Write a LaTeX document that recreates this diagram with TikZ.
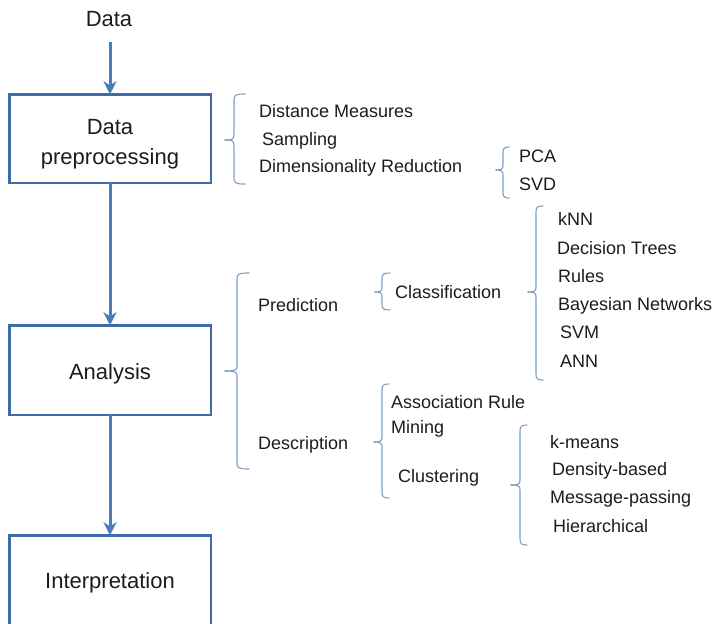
\documentclass[tikz,border=0pt]{standalone}
\usepackage{fontspec}
\setmainfont{Liberation Sans}
\usetikzlibrary{arrows.meta}

\definecolor{boxblue}{HTML}{3F6CA8}
\definecolor{arrowblue}{HTML}{4A7DBB}
\definecolor{braceblue}{HTML}{7E9CC4}
\definecolor{ink}{HTML}{1C1C1C}

\tikzset{
  stagebox/.style={draw=boxblue, line width=2.5pt, fill=none, inner sep=0pt, outer sep=0pt,
    minimum width=201.5pt, rectangle},
  flow/.style={draw=arrowblue, line width=3pt,
    -{Stealth[length=13pt, width=13pt, inset=4pt]}},
  bracket/.style={draw=braceblue, line width=1.1pt, line cap=round, line join=round},
  stagetext/.style={text=ink, font=\fontsize{22}{30}\selectfont, inner sep=0pt, align=center},
  item/.style={text=ink, font=\fontsize{18}{21}\selectfont, inner sep=0pt, anchor=base west},
}

% left curly bracket: #1 = x of spine, #2 = top, #3 = bottom, #4 = y of tip,
% #5 = x of tip, #6 = x where the end hooks stop
\newcommand\curlybrk[6]{%
  \draw[bracket] (#6,#2) .. controls (#1+1.5,#2) and (#1,#2+1) .. (#1,#2+6)
    -- (#1,#4-5) .. controls (#1,#4-1) and (#1-1.5,#4) .. (#5,#4);
  \draw[bracket] (#5,#4) .. controls (#1-1.5,#4) and (#1,#4+1) .. (#1,#4+5)
    -- (#1,#3-6) .. controls (#1,#3-1) and (#1+1.5,#3) .. (#6,#3);
}

\begin{document}
\begin{tikzpicture}[x=1pt, y=-1pt]
\useasboundingbox (0,0) rectangle (713,624);
\clip (0,0) rectangle (713,624);

% stages
\node[text=ink, font=\fontsize{22}{26}\selectfont, inner sep=0pt, anchor=base] (data) at (109,26) {Data};
\node[stagebox, minimum height=88.5pt] (prep) at (110,138.5) {};
\node[stagetext] (preptext) at (110,144) {Data\\preprocessing};
\node[stagebox, minimum height=89.5pt] (ana) at (110,370) {};
\node[stagetext, anchor=base] (anatext) at (110,379) {Analysis};
\node[stagebox, minimum height=90.5pt] (interp) at (110,580.5) {};
\node[stagetext, anchor=base] (interptext) at (110,588) {Interpretation};

\coordinate (datafoot) at (110,42);
\draw[flow] (datafoot) -- (prep.north);
\draw[flow] (prep.south) -- (ana.north);
\draw[flow] (ana.south) -- (interp.north);

% preprocessing techniques
\curlybrk{234}{94}{184}{140}{225}{245}
\node[item] (dist) at (259,117) {Distance Measures};
\node[item] (samp) at (262,145) {Sampling};
\node[item] (dimred) at (259,172) {Dimensionality Reduction};

\curlybrk{503}{147}{198}{170}{496}{509}
\node[item] (pca) at (519,162) {PCA};
\node[item] (svd) at (519,190) {SVD};

% analysis tasks
\curlybrk{237}{273}{469}{371}{225}{249}
\node[item] (pred) at (258,311) {Prediction};
\node[item] (desc) at (258,449) {Description};

\curlybrk{382}{273}{310}{292}{375}{390}
\node[item] (cls) at (395,298) {Classification};

\curlybrk{536}{206}{380}{292}{528}{543}
\node[item] (knn) at (558,225) {kNN};
\node[item] (dtree) at (557,254) {Decision Trees};
\node[item] (rules) at (558,282) {Rules};
\node[item] (bayes) at (558,310) {Bayesian Networks};
\node[item] (svm) at (560,338) {SVM};
\node[item] (ann) at (560,367) {ANN};

\curlybrk{382}{384}{498}{442}{374}{389}
\node[item] (arm) at (391,408) {Association Rule};
\node[item] (mining) at (391,433) {Mining};
\node[item] (clus) at (398,482) {Clustering};

\curlybrk{520}{425}{545}{485}{511}{527}
\node[item] (kmeans) at (550,448) {k-means};
\node[item] (dens) at (552,475) {Density-based};
\node[item] (msg) at (550,503) {Message-passing};
\node[item] (hier) at (553,532) {Hierarchical};
\end{tikzpicture}
\end{document}
